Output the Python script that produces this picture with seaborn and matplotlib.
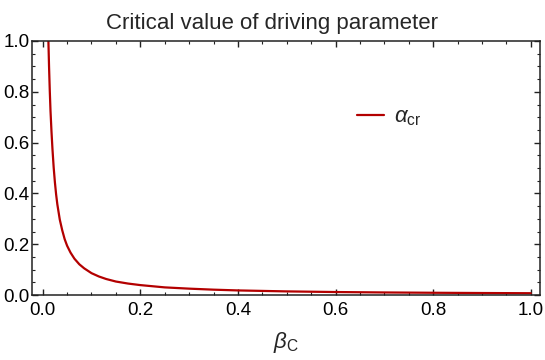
import pandas as pd
import seaborn as sns
import matplotlib
matplotlib.use("Agg")
import matplotlib.pyplot as plt
from matplotlib.ticker import MultipleLocator

# values
beta_c = [0.0110, 0.0117, 0.0130, 0.0145, 0.0160, 0.0180, 0.0200, 0.0225,
          0.0250, 0.0275, 0.0300, 0.0350, 0.0400, 0.0450, 0.0500, 0.0570,
          0.0650, 0.0750, 0.0850, 0.1000, 0.1150, 0.1300, 0.1500, 0.1750,
          0.2000, 0.2500, 0.3000, 0.3500, 0.4000, 0.5000, 0.6000, 0.7000,
          0.8000, 0.9000, 1.0000]
alpha_cr = [1.060, 1.000, 0.900, 0.805, 0.725, 0.644, 0.575, 0.502,
            0.444, 0.396, 0.357, 0.297, 0.255, 0.220, 0.194, 0.167,
            0.143, 0.121, 0.105, 0.086, 0.073, 0.063, 0.053, 0.045,
            0.039, 0.030, 0.025, 0.021, 0.018, 0.0142, 0.0117, 0.0100,
            0.0088, 0.0078, 0.0070]

df = pd.DataFrame({'beta': beta_c, 'alpha': alpha_cr,
                   'series': r'$\alpha_{\mathrm{cr}}$'})

sns.set_style("ticks")
plt.rcParams['font.family'] = ['Liberation Sans', 'DejaVu Sans']
plt.rcParams['mathtext.fontset'] = 'custom'
plt.rcParams['mathtext.rm'] = 'Liberation Sans'
plt.rcParams['mathtext.it'] = 'Liberation Sans:italic'

fig = plt.figure(figsize=(5.45, 3.6), dpi=100)
ax = fig.add_axes([32.3 / 545, 1 - 295 / 360, 507.7 / 545, 254 / 360])

sns.lineplot(data=df, x='beta', y='alpha', hue='series',
             palette=['#b30000'], linewidth=1.6, ax=ax, sort=False)

ax.set_xlim(-0.0213, 1.019)
ax.set_ylim(0, 1)
ax.xaxis.set_major_locator(MultipleLocator(0.2))
ax.xaxis.set_minor_locator(MultipleLocator(0.05))
ax.yaxis.set_major_locator(MultipleLocator(0.2))
ax.yaxis.set_minor_locator(MultipleLocator(0.05))
ax.xaxis.set_major_formatter(lambda v, p: '{:.1f}'.format(v))
ax.yaxis.set_major_formatter(lambda v, p: '{:.1f}'.format(v))
ax.tick_params(which='both', direction='in', top=True, right=True,
               colors='#222222', labelcolor='black', labelsize=13.5)
ax.tick_params(which='major', length=4.5, width=1)
ax.tick_params(which='minor', length=2.5, width=0.8)
ax.tick_params(axis='y', pad=2)
ax.tick_params(axis='x', pad=5)
for s in ax.spines.values():
    s.set_color('#222222')
    s.set_linewidth(1.1)

ax.set_ylabel(None)
ax.set_xlabel(r'$\beta_{\mathrm{C}}$', fontsize=16, labelpad=8)
# title is centred on the figure, not the axes
ax.set_title('Critical value of driving parameter', fontsize=16, pad=9,
             x=(272.5 - 32.3) / 507.7)

ax.legend(loc='center left', bbox_to_anchor=(0.64, 0.70), frameon=False,
          fontsize=16, handlelength=1.2, handletextpad=0.45,
          borderpad=0, borderaxespad=0)

plt.savefig('out.png', dpi=100)
